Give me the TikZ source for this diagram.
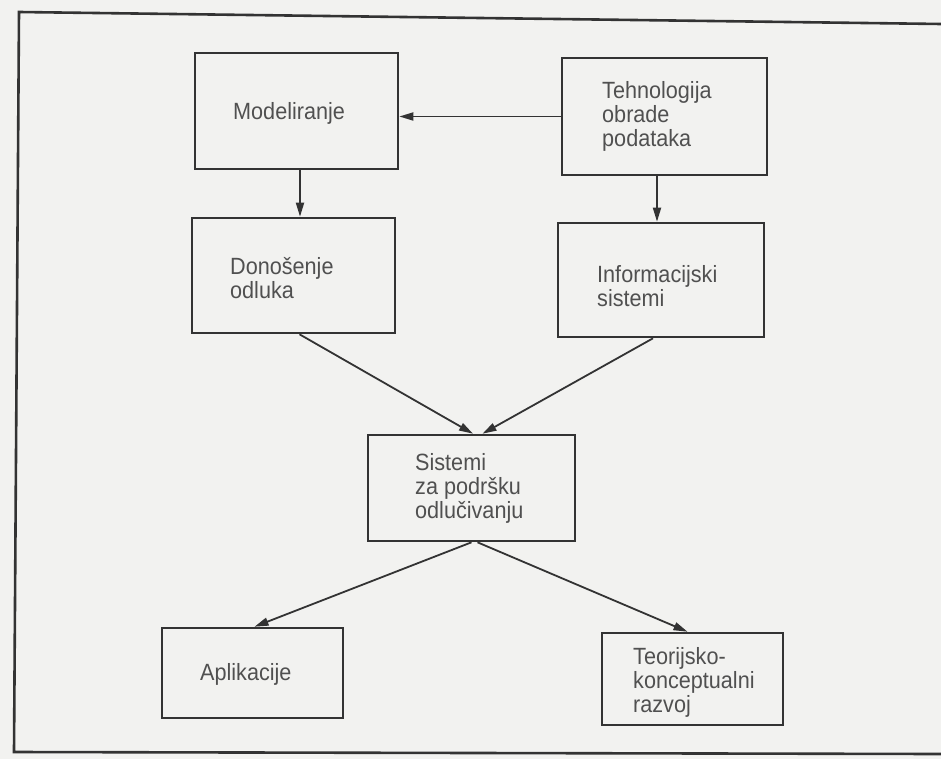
\documentclass[tikz,border=0pt]{standalone}
\usepackage{fontspec}
\setmainfont{Liberation Sans}[FakeStretch=0.92]
\usetikzlibrary{arrows.meta}
\definecolor{paper}{HTML}{F2F2F0}
\definecolor{ink}{HTML}{333333}
\definecolor{txt}{HTML}{505050}
\tikzset{
  box/.style={draw=ink, line width=2.6pt, rectangle, inner sep=0pt},
  lbl/.style={text=txt, align=left, inner sep=0pt, anchor=west,
              font=\fontsize{23.5}{24}\selectfont},
  conn/.style={draw=ink, line width=1.8pt,
               -{Triangle[length=14pt,width=8pt]}},
}
\begin{document}
\begin{tikzpicture}[x=1pt, y=-1pt]
  % page area and background
  \fill[paper] (0,0) rectangle (941,759);
  \useasboundingbox (0,0) rectangle (941,759);

  % outer frame (open on the right)
  \draw[ink, line width=2.6pt] (941,24) -- (19,12) -- (14,752) -- (941,754);

  % boxes
  \node[box, minimum width=203pt, minimum height=116pt] (mod) at (296.5,111) {};
  \node[box, minimum width=205pt, minimum height=117pt] (teh) at (664.5,116.5) {};
  \node[box, minimum width=203pt, minimum height=115pt] (don) at (293.5,275.5) {};
  \node[box, minimum width=206pt, minimum height=114pt] (inf) at (661,280) {};
  \node[box, minimum width=207pt, minimum height=106pt] (sis) at (471.5,488) {};
  \node[box, minimum width=181pt, minimum height=90pt]  (apl) at (252.5,673) {};
  \node[box, minimum width=181pt, minimum height=92pt]  (teo) at (692.5,679) {};

  % labels
  \node[lbl] (modT) at (233,113) {Modeliranje};
  \node[lbl] (tehT) at (602,116) {Tehnologija\\obrade\\podataka};
  \node[lbl] (donT) at (230,278) {Donošenje\\odluka};
  \node[lbl] (infT) at (597,286) {Informacijski\\sistemi};
  \node[lbl] (sisT) at (415,488) {Sistemi\\za podršku\\odlučivanju};
  \node[lbl] (aplT) at (200,674) {Aplikacije};
  \node[lbl] (teoT) at (633,682) {Teorijsko-\\konceptualni\\razvoj};

  % connectors
  \draw[conn] (teh.west) -- (teh.west -| mod.east);
  \draw[conn] ([xshift=3.5pt]mod.south) -- ([xshift=3.5pt]mod.south |- don.north);
  \draw[conn] ([xshift=-7.5pt]teh.south) -- ([xshift=-7.5pt]teh.south |- inf.north);
  \draw[conn] ([xshift=6pt]don.south) -- ([xshift=1.5pt]sis.north);
  \draw[conn] ([xshift=-8pt]inf.south) -- ([xshift=11pt]sis.north);
  \draw[conn] (sis.south) -- ([xshift=2pt]apl.north);
  \draw[conn] ([xshift=6pt]sis.south) -- ([xshift=-5pt]teo.north);
\end{tikzpicture}
\end{document}
